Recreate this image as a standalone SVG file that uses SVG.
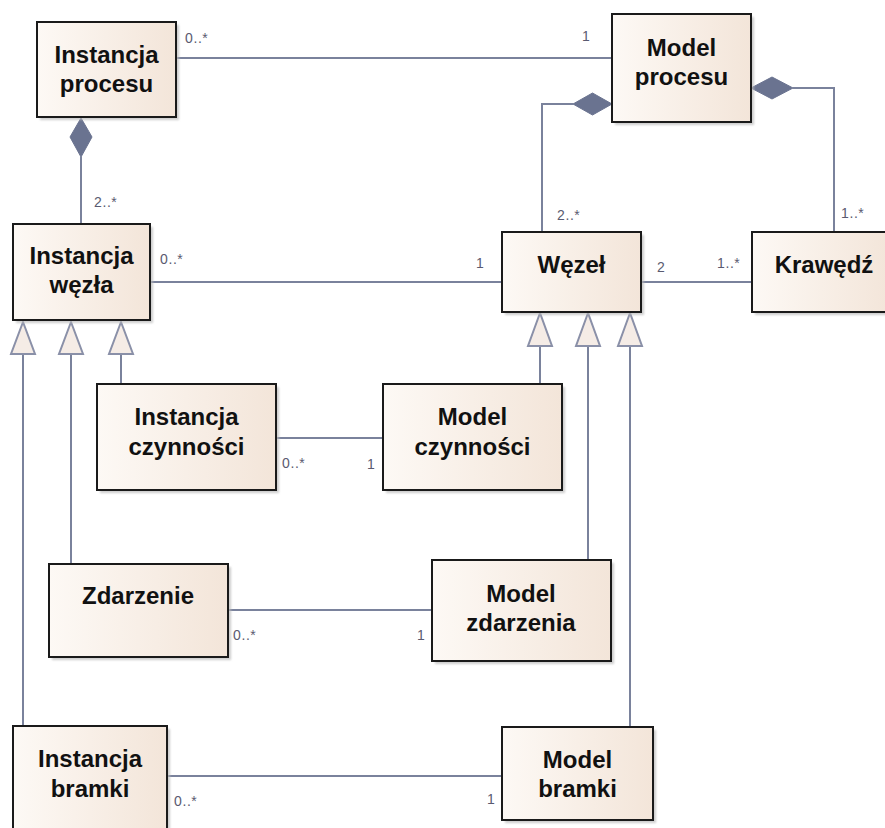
<svg xmlns="http://www.w3.org/2000/svg" width="885" height="828" viewBox="0 0 885 828">
<defs>
<linearGradient id="g" x1="0" y1="0" x2="1" y2="0">
<stop offset="0" stop-color="#fdf9f5"/>
<stop offset="1" stop-color="#f3e5d9"/>
</linearGradient>
<filter id="sh" x="-10%" y="-10%" width="130%" height="130%">
<feGaussianBlur stdDeviation="1.2"/>
</filter>
</defs>
<style>
.box{fill:url(#g);stroke:#1a1a1a;stroke-width:2}
.shadow{fill:#b8b8b8;opacity:0.7;filter:url(#sh)}
.t{font-family:"Liberation Sans",Arial,sans-serif;font-weight:bold;font-size:24px;fill:#111;text-anchor:middle}
.l{font-family:"Liberation Sans",Arial,sans-serif;font-size:14px;letter-spacing:0.6px;fill:#5a5a70}
.c{fill:none;stroke:#7a829c;stroke-width:2}
.dia{fill:#6a7390;stroke:#6a7390;stroke-width:1}
.tri{fill:#f5ece6;stroke:#8a90a8;stroke-width:2}
</style>
<rect width="885" height="828" fill="#ffffff"/>

<g id="connectors">
<line class="c" x1="176" y1="58" x2="612" y2="58"/>
<line class="c" x1="150" y1="282" x2="502" y2="282"/>
<line class="c" x1="641" y1="282" x2="752" y2="282"/>
<line class="c" x1="276" y1="438" x2="383" y2="438"/>
<line class="c" x1="228" y1="610" x2="432" y2="610"/>
<line class="c" x1="167" y1="776" x2="502" y2="776"/>
<line class="c" x1="81" y1="157" x2="81" y2="224"/>
<polygon class="dia" points="81,118 70,137 81,157 92,137"/>
<polyline class="c" points="573,104 542,104 542,232"/>
<polygon class="dia" points="612,104 592.5,93 573,104 592.5,115"/>
<polyline class="c" points="793,88 834,88 834,232"/>
<polygon class="dia" points="751,88 772,77 793,88 772,99"/>
<line class="c" x1="23" y1="354" x2="23" y2="726"/>
<line class="c" x1="71" y1="354" x2="71" y2="564"/>
<line class="c" x1="121" y1="354" x2="121" y2="384"/>
<polygon class="tri" points="23,322 11,354 35,354"/>
<polygon class="tri" points="71,322 59,354 83,354"/>
<polygon class="tri" points="121,322 109,354 133,354"/>
<line class="c" x1="540" y1="346" x2="540" y2="384"/>
<line class="c" x1="588" y1="346" x2="588" y2="560"/>
<line class="c" x1="630" y1="346" x2="630" y2="727"/>
<polygon class="tri" points="540,313 528,346 552,346"/>
<polygon class="tri" points="588,313 576,346 600,346"/>
<polygon class="tri" points="630,313 618,346 642,346"/>
<text class="l" x="185" y="43">0..*</text>
<text class="l" x="582" y="41">1</text>
<text class="l" x="94" y="207">2..*</text>
<text class="l" x="557" y="220">2..*</text>
<text class="l" x="841" y="218">1..*</text>
<text class="l" x="160" y="264">0..*</text>
<text class="l" x="476" y="268">1</text>
<text class="l" x="657" y="272">2</text>
<text class="l" x="717" y="268">1..*</text>
<text class="l" x="282" y="468">0..*</text>
<text class="l" x="367" y="469">1</text>
<text class="l" x="233" y="640">0..*</text>
<text class="l" x="417" y="640">1</text>
<text class="l" x="174" y="806">0..*</text>
<text class="l" x="487" y="804">1</text>
</g>

<g id="instancja-procesu">
<rect class="shadow" x="40" y="25" width="139" height="95"/>
<rect class="box" x="37" y="22" width="139" height="95"/>
<text class="t" x="106.5" y="63">Instancja</text>
<text class="t" x="106.5" y="92">procesu</text>
</g>

<g id="model-procesu">
<rect class="shadow" x="615" y="17" width="139" height="108"/>
<rect class="box" x="612" y="14" width="139" height="108"/>
<text class="t" x="681.5" y="56">Model</text>
<text class="t" x="681.5" y="85">procesu</text>
</g>

<g id="instancja-wezla">
<rect class="shadow" x="16" y="227" width="137" height="96"/>
<rect class="box" x="13" y="224" width="137" height="96"/>
<text class="t" x="81.5" y="264">Instancja</text>
<text class="t" x="81.5" y="293">węzła</text>
</g>

<g id="wezel">
<rect class="shadow" x="505" y="235" width="139" height="80"/>
<rect class="box" x="502" y="232" width="139" height="80"/>
<text class="t" x="571.5" y="273">Węzeł</text>
</g>

<g id="krawedz">
<rect class="shadow" x="755" y="235" width="139" height="80"/>
<rect class="box" x="752" y="232" width="139" height="80"/>
<text class="t" x="824" y="273">Krawędź</text>
</g>

<g id="instancja-czynnosci">
<rect class="shadow" x="100" y="387" width="179" height="106"/>
<rect class="box" x="97" y="384" width="179" height="106"/>
<text class="t" x="186.5" y="425">Instancja</text>
<text class="t" x="186.5" y="455">czynności</text>
</g>

<g id="model-czynnosci">
<rect class="shadow" x="386" y="387" width="179" height="106"/>
<rect class="box" x="383" y="384" width="179" height="106"/>
<text class="t" x="472.5" y="425">Model</text>
<text class="t" x="472.5" y="455">czynności</text>
</g>

<g id="zdarzenie">
<rect class="shadow" x="52" y="567" width="179" height="93"/>
<rect class="box" x="49" y="564" width="179" height="93"/>
<text class="t" x="138" y="604">Zdarzenie</text>
</g>

<g id="model-zdarzenia">
<rect class="shadow" x="435" y="563" width="179" height="101"/>
<rect class="box" x="432" y="560" width="179" height="101"/>
<text class="t" x="521" y="602">Model</text>
<text class="t" x="521" y="631">zdarzenia</text>
</g>

<g id="instancja-bramki">
<rect class="shadow" x="16" y="729" width="154" height="110"/>
<rect class="box" x="13" y="726" width="154" height="110"/>
<text class="t" x="90" y="767">Instancja</text>
<text class="t" x="90" y="797">bramki</text>
</g>

<g id="model-bramki">
<rect class="shadow" x="505" y="730" width="151" height="93"/>
<rect class="box" x="502" y="727" width="151" height="93"/>
<text class="t" x="577.5" y="768">Model</text>
<text class="t" x="577.5" y="797">bramki</text>
</g>
</svg>
